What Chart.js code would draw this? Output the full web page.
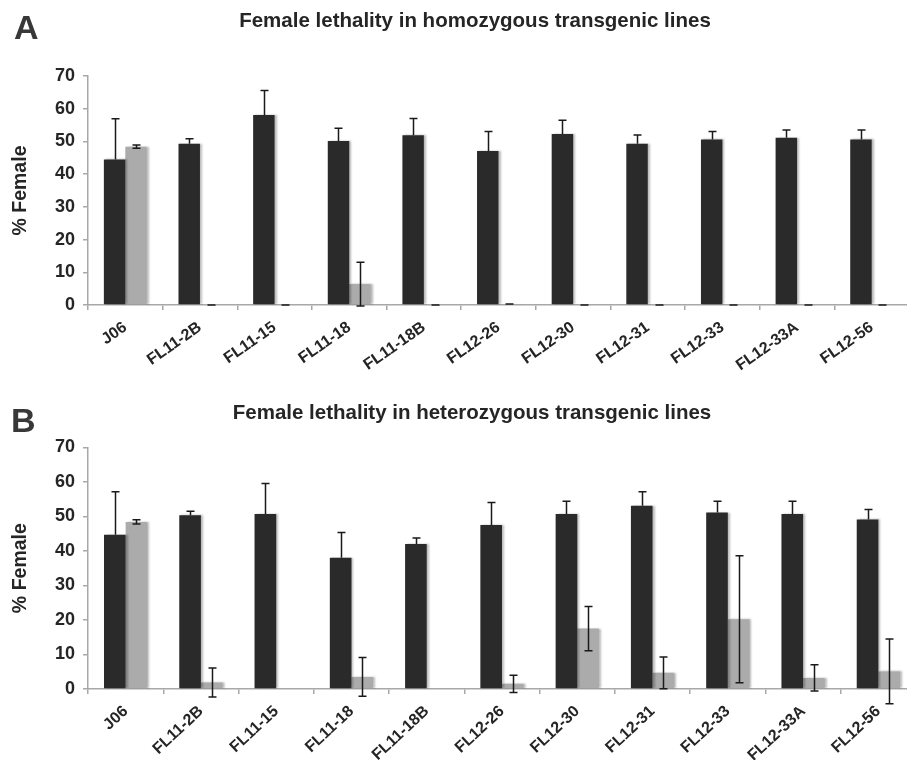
<!DOCTYPE html>
<html>
<head>
<meta charset="utf-8">
<script src="https://cdn.jsdelivr.net/npm/chart.js@4/dist/chart.umd.min.js"></script>
<style>
  html, body { margin: 0; padding: 0; background: #fff; overflow: hidden; }
  body { width: 907px; height: 760px; position: relative; }
  .panel { position: absolute; left: 0; width: 916px; height: 380px; }
  #panelA { top: 0; }
  #panelB { top: 380px; }
</style>
</head>
<body>
<div class="panel" id="panelA"><canvas id="chartA"></canvas></div>
<div class="panel" id="panelB"><canvas id="chartB"></canvas></div>
<script>
// Transgenic lines shown on both panels
const categories = ['J06', 'FL11-2B', 'FL11-15', 'FL11-18', 'FL11-18B', 'FL12-26',
  'FL12-30', 'FL12-31', 'FL12-33', 'FL12-33A', 'FL12-56'];

// Panel A: homozygous lines (% female, with SD)
const homoBlack    = [44.5, 49.3, 58.1, 50.1, 51.9, 47.1, 52.3, 49.3, 50.6, 51.1, 50.6];
const homoBlackErr = [12.4, 1.5, 7.5, 3.9, 5.1, 5.9, 4.2, 2.7, 2.4, 2.4, 2.9];
const homoGray     = [48.4, 0, 0, 6.4, 0, 0.3, 0, 0, 0, 0, 0];
const homoGrayErr  = [0.5, 0, 0, 6.7, 0, 0, 0, 0, 0, 0, 0];

// Panel B: heterozygous lines (% female, with SD)
const heteroBlack    = [44.7, 50.3, 50.7, 38.0, 42.0, 47.5, 50.7, 53.1, 51.1, 50.7, 49.1];
const heteroBlackErr = [12.4, 1.2, 8.8, 7.3, 1.7, 6.5, 3.7, 4.0, 3.3, 3.7, 2.9];
const heteroGray     = [48.4, 1.9, null, 3.5, null, 1.5, 17.5, 4.7, 20.2, 3.2, 5.1];
const heteroGrayErr  = [0.6, 4.2, null, 5.6, null, 2.5, 6.4, 4.6, 18.4, 3.8, 9.4];

const yTicks = [0, 10, 20, 30, 40, 50, 60, 70];

const FONT = '"Liberation Sans", Arial, Helvetica, sans-serif';
const TEXT = '#252525';
const AXIS = '#a8a8a8';

// Error bars (and a faint bar shadow) drawn from each dataset's errors array.
// Black bars only show the upper whisker; the lower half sits inside the bar.
const errorBarPlugin = {
  id: 'errorBars',
  beforeDatasetsDraw(chart) {
    const ctx = chart.ctx;
    ctx.save();
    ctx.shadowColor = 'rgba(0,0,0,0.28)';
    ctx.shadowOffsetX = 2;
    ctx.shadowOffsetY = 0;
    ctx.shadowBlur = 2;
  },
  afterDatasetsDraw(chart) {
    const ctx = chart.ctx;
    ctx.restore();
    const y = chart.scales.y;
    ctx.save();
    ctx.strokeStyle = '#1a1a1a';
    ctx.lineWidth = 1.5;
    chart.data.datasets.forEach((ds, di) => {
      const meta = chart.getDatasetMeta(di);
      meta.data.forEach((bar, i) => {
        const v = ds.data[i];
        const e = ds.errors[i];
        if (v == null || e == null) return;
        const x = Math.round(bar.x) + 0.5;
        const yTop = y.getPixelForValue(v + e);
        const yBot = ds.upperOnly ? y.getPixelForValue(v) : y.getPixelForValue(v - e);
        const cap = 4;
        ctx.beginPath();
        ctx.moveTo(x, yTop); ctx.lineTo(x, yBot);
        ctx.moveTo(x - cap, yTop); ctx.lineTo(x + cap, yTop);
        if (!ds.upperOnly) { ctx.moveTo(x - cap, yBot); ctx.lineTo(x + cap, yBot); }
        ctx.stroke();
      });
    });
    ctx.restore();
  }
};

// Panel letter and heading
const headingPlugin = {
  id: 'heading',
  afterDraw(chart, args, opts) {
    const ctx = chart.ctx;
    ctx.save();
    ctx.fillStyle = '#383838';
    ctx.font = 'bold 34px ' + FONT;
    ctx.textAlign = 'left';
    ctx.textBaseline = 'alphabetic';
    ctx.fillText(opts.letter, opts.letterX, opts.letterY);
    ctx.fillStyle = TEXT;
    ctx.font = 'bold 20.5px ' + FONT;
    ctx.textAlign = 'center';
    ctx.textBaseline = 'middle';
    ctx.fillText(opts.title, opts.titleX, opts.titleY);
    ctx.restore();
  }
};

function makeChart(id, black, blackErr, gray, grayErr, cfg) {
  return new Chart(document.getElementById(id), {
    type: 'bar',
    data: {
      labels: categories,
      datasets: [
        { data: black, errors: blackErr, upperOnly: true, backgroundColor: '#2a2a2a',
          categoryPercentage: 0.575, barPercentage: 1.0 },
        { data: gray, errors: grayErr, upperOnly: false, backgroundColor: '#ababab',
          categoryPercentage: 0.575, barPercentage: 1.0 }
      ]
    },
    options: {
      responsive: true,
      maintainAspectRatio: false,
      animation: false,
      layout: { padding: { top: cfg.top, right: cfg.right, left: 0, bottom: 0 } },
      plugins: {
        legend: { display: false },
        tooltip: { enabled: false },
        heading: cfg.heading
      },
      scales: {
        x: {
          grid: { display: true, drawOnChartArea: false, drawTicks: true, tickLength: 5,
                  color: AXIS, lineWidth: 1.5, offset: true },
          border: { display: true, color: AXIS, width: 1.5 },
          ticks: { color: TEXT, font: { family: FONT, size: 16, weight: 'bold' },
                   minRotation: cfg.rot, maxRotation: cfg.rot, autoSkip: false, padding: 8 },
          afterFit(scale) { scale.height = cfg.xHeight; }
        },
        y: {
          min: 0, max: 70,
          afterBuildTicks(scale) { scale.ticks = yTicks.map(v => ({ value: v })); },
          grid: { display: true, drawOnChartArea: false, drawTicks: true, tickLength: 5,
                  color: AXIS, lineWidth: 1.5 },
          border: { display: true, color: AXIS, width: 1.5 },
          ticks: { color: TEXT, font: { family: FONT, size: 18, weight: 'bold' }, padding: 8 },
          title: { display: true, text: '% Female', color: TEXT,
                   font: { family: FONT, size: 19.5, weight: 'bold' }, padding: { top: 9, bottom: 0 } },
          afterFit(scale) { scale.width = 88; }
        }
      }
    },
    plugins: [errorBarPlugin, headingPlugin]
  });
}

makeChart('chartA', homoBlack, homoBlackErr, homoGray, homoGrayErr, {
  top: 76, right: 7, xHeight: 75, rot: 35,
  heading: { letter: 'A', letterX: 14, letterY: 39,
             title: 'Female lethality in homozygous transgenic lines', titleX: 475, titleY: 21 }
});

makeChart('chartB', heteroBlack, heteroBlackErr, heteroGray, heteroGrayErr, {
  top: 67.3, right: 0, xHeight: 71, rot: 43,
  heading: { letter: 'B', letterX: 11, letterY: 52,
             title: 'Female lethality in heterozygous transgenic lines', titleX: 472, titleY: 33 }
});
</script>
</body>
</html>
